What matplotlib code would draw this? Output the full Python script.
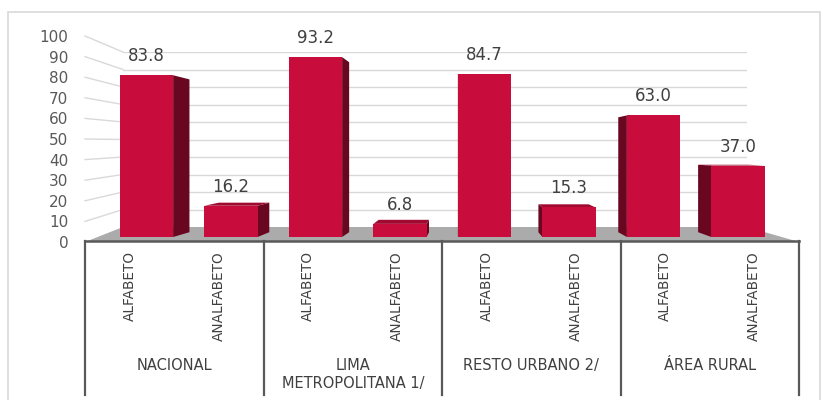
"""Población alfabeta / analfabeta por ámbito geográfico (%)."""

import matplotlib
matplotlib.use("Agg")
import matplotlib.pyplot as plt
from matplotlib.patches import Polygon, Rectangle
from matplotlib.lines import Line2D
from matplotlib.transforms import IdentityTransform

W, H = 823, 400

groups = ["NACIONAL", "LIMA\nMETROPOLITANA 1/", "RESTO URBANO 2/", "ÁREA RURAL"]
conditions = ["ALFABETO", "ANALFABETO"]
values = [83.8, 16.2, 93.2, 6.8, 84.7, 15.3, 63.0, 37.0]
labels = ["83.8", "16.2", "93.2", "6.8", "84.7", "15.3", "63.0", "37.0"]
yticks = list(range(0, 101, 10))

FRONT = "#C80D3D"
SIDE = "#6A0720"
TOP = "#A00A31"
GRID = "#D9D9D9"
TEXT = "#404040"
FONT = "DejaVu Sans"

plt.rcParams["font.family"] = FONT


def box(left, top, right, bottom):
    # pixel box (top-left origin) -> figure fraction rect
    return [left / W, (H - bottom) / H, (right - left) / W, (bottom - top) / H]


def recede(pt, vp, k):
    return (pt[0] + k * (vp[0] - pt[0]), pt[1] + k * (vp[1] - pt[1]))


fig = plt.figure(figsize=(W / 100, H / 100), dpi=100)
fig.patch.set_facecolor("white")

# back wall with its gridlines
wall = fig.add_axes(box(123, 52, 747, 227))
wall.set_xlim(0, 1)
wall.set_ylim(0, 100)
for v in yticks[1:]:
    wall.axhline(v, color=GRID, linewidth=1.0)
wall.axis("off")

# outer frame
wall.add_patch(Rectangle((8 / W, -0.02), 812 / W, (H - 12) / H + 0.02,
                         transform=fig.transFigure, fill=False,
                         edgecolor=GRID, linewidth=1.2, clip_on=False))

# front scale carrying the tick labels
front = fig.add_axes(box(85, 36, 86, 242))
front.set_ylim(0, 100)
front.set_yticks(yticks)
front.set_yticklabels([str(v) for v in yticks], fontsize=11, color="#595959")
front.tick_params(axis="y", length=0, pad=12)
front.set_xticks([])
for s in front.spines.values():
    s.set_visible(False)
front.patch.set_alpha(0)

# slanted links from the front scale to the wall
for v in yticks[1:]:
    p0 = (front.transAxes.transform((0, 0))[0], front.transData.transform((0, v))[1])
    p1 = (wall.transAxes.transform((0, 0))[0], wall.transData.transform((0, v))[1])
    wall.add_line(Line2D([p0[0], p1[0]], [p0[1], p1[1]], transform=IdentityTransform(),
                         color=GRID, linewidth=1.0, clip_on=False))

# floor
fl = (front.transAxes.transform((0, 0))[0], front.transData.transform((0, 0))[1])
bl = wall.transAxes.transform((0, 0))
br = wall.transAxes.transform((1, 0))
fr = (799, fl[1])
wall.add_patch(Polygon([fl, bl, br, fr], closed=True, transform=IdentityTransform(),
                       facecolor="#ABABAB", edgecolor="none", clip_on=False))

# bars
bars = fig.add_axes(box(104.25, 44, 780.25, 237))
bars.set_xlim(-0.5, 7.5)
bars.set_ylim(0, 100)
bars.axis("off")
bars.patch.set_alpha(0)
xs = list(range(len(values)))
width = 0.63
vp = (470, H - 150)
k = 0.055
for x, v, lab in zip(xs, values, labels):
    x0, x1 = x - width / 2, x + width / 2
    a = bars.transData.transform((x0, 0))
    b = bars.transData.transform((x1, 0))
    c = bars.transData.transform((x1, v))
    d = bars.transData.transform((x0, v))
    cx = (a[0] + b[0]) / 2
    if cx < vp[0]:
        side = [b, c, recede(c, vp, k), recede(b, vp, k)]
    else:
        side = [a, d, recede(d, vp, k), recede(a, vp, k)]
    bars.add_patch(Polygon(side, closed=True, transform=IdentityTransform(),
                           facecolor=SIDE, edgecolor="none", clip_on=False))
    if c[1] < vp[1]:
        top = [d, c, recede(c, vp, k), recede(d, vp, k)]
        bars.add_patch(Polygon(top, closed=True, transform=IdentityTransform(),
                               facecolor=TOP, edgecolor="none", clip_on=False))
    bars.bar(x, v, width=width, color=FRONT, edgecolor="none", zorder=3)
    bars.annotate(lab, (x, v), xytext=(0, 10), textcoords="offset pixels",
                  ha="center", va="bottom", fontsize=12, color=TEXT)

# category table under the floor
tab = fig.add_axes(box(85, 241, 799, 395))
tab.set_xlim(0, 8)
tab.set_ylim(154, 0)
tab.axis("off")
tab.axhline(0, color="#595959", linewidth=1.8, clip_on=False)
for xv in range(0, 9, 2):
    tab.axvline(xv, color="#595959", linewidth=1.6, clip_on=False)
for i in range(8):
    tab.text(i + 0.5, 10, conditions[i % 2], rotation=90, ha="center", va="top",
             fontsize=9.8, color=TEXT)
for g, name in enumerate(groups):
    tab.text(2 * g + 1, 117, name, ha="center", va="top", fontsize=10.5,
             color=TEXT, linespacing=1.25)

fig.savefig("out.png", dpi=100, facecolor="white")
